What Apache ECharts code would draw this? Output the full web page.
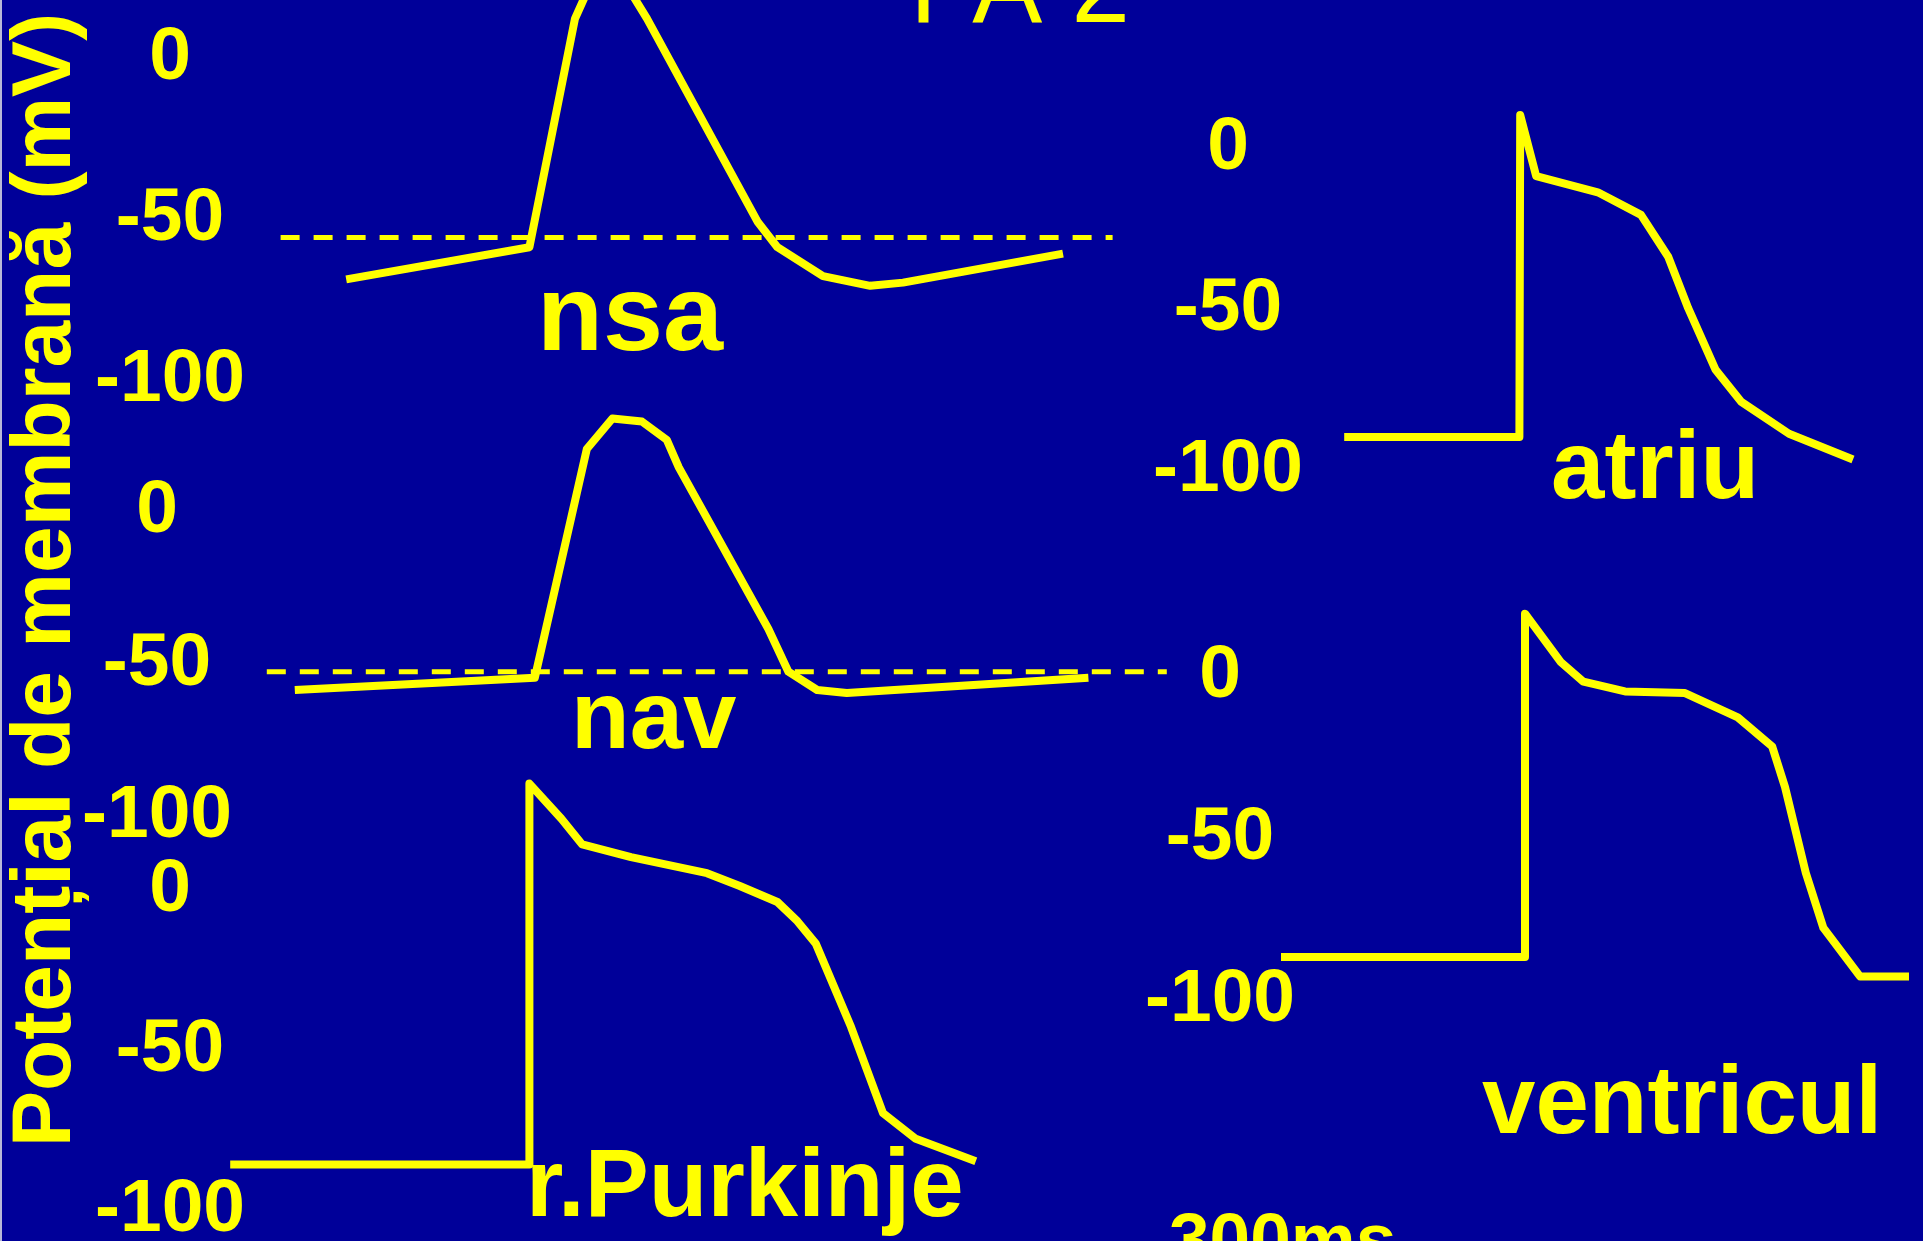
<!DOCTYPE html>
<html>
<head>
<meta charset="utf-8">
<script src="https://cdn.jsdelivr.net/npm/echarts@6/dist/echarts.min.js"></script>
<style>
  html, body { margin: 0; padding: 0; background: #000099; }
  #chart { width: 1923px; height: 1241px; }
</style>
</head>
<body>
<div id="chart"></div>
<script>
// time in ms, membrane potential in mV
const nsaTime = [164, 393, 450, 488, 540, 678, 703, 760, 819, 860, 1060];
const nsaMv   = [-70, -60, 11, 32, 11, -52, -60, -69, -72, -71, -62];
const nsaThresholdTime = [82, 1122];
const nsaThresholdMv = -57;

const navTime = [116, 416, 481, 513, 550, 581, 596, 708, 733, 769, 806, 1108];
const navMv   = [-60, -56, 19, 29, 28, 22, 13, -40, -54, -60, -61, -56];
const navThresholdTime = [81, 1206];
const navThresholdMv = -54;

const atriuTime = [89, 308, 309, 329, 406, 460, 494, 519, 553, 585, 645, 725];
const atriuMv   = [-91, -91, 9, -10, -15, -22, -35, -51, -70, -80, -90, -98];

const ventriculTime = [20, 325, 325, 370, 398, 450, 525, 591, 634, 650, 676, 698, 744, 809];
const ventriculMv   = [-88, -88, 18, 3, -3, -6, -6.5, -14, -23, -35.5, -62, -79, -94, -94];

const purkinjeTime = [19, 393, 393, 433, 459, 520, 615, 656, 703, 728, 751, 795, 835, 876, 951];
const purkinjeMv   = [-87, -87, 32, 21, 13, 9, 4, 0, -5, -11, -18, -44, -71, -79, -86];

const voltageTicks = [0, -50, -100];
const yTitle = "Potențial de membrană (mV)";

const YELLOW = "#ffff00";
const FONT = '"Liberation Sans", Arial, sans-serif';
const PX_PER_MS = 0.8;

const panels = [
  { label: "nsa",        time: nsaTime,       mv: nsaMv,       left: 215,  top: 54,  height: 322, xMax: 1250 },
  { label: "nav",        time: navTime,       mv: navMv,       left: 202,  top: 507, height: 305, xMax: 1250 },
  { label: "atriu",      time: atriuTime,     mv: atriuMv,     left: 1273, top: 144, height: 322, xMax: 800 },
  { label: "ventricul",  time: ventriculTime, mv: ventriculMv, left: 1265, top: 672, height: 324, xMax: 800 },
  { label: "r.Purkinje", time: purkinjeTime,  mv: purkinjeMv,  left: 215,  top: 886, height: 320, xMax: 1250 },
];

const chart = echarts.init(document.getElementById("chart"));

const grids = panels.map((p) => ({
  left: p.left,
  top: p.top,
  width: p.xMax * PX_PER_MS,
  height: p.height,
  outerBoundsMode: "none",
}));

const xAxes = panels.map((p, i) => ({
  type: "value",
  gridIndex: i,
  min: 0,
  max: p.xMax,
  show: false,
}));

const yAxes = panels.map((p, i) => ({
  type: "value",
  gridIndex: i,
  min: voltageTicks[voltageTicks.length - 1],
  max: voltageTicks[0],
  interval: 50,
  axisLine: { show: false },
  axisTick: { show: false },
  splitLine: { show: false },
  axisLabel: {
    align: "center",
    verticalAlign: "middle",
    margin: 45,
    formatter: "{v|{value}}",
    rich: {
      v: {
        color: YELLOW,
        fontFamily: FONT,
        fontWeight: "bold",
        fontSize: 75,
        padding: [9, 0, 0, 0],
      },
    },
  },
}));

const traceStyle = { color: YELLOW, width: 8, join: "round" };

const series = panels.map((p, i) => ({
  name: p.label,
  type: "line",
  xAxisIndex: i,
  yAxisIndex: i,
  data: p.time.map((t, k) => [t, p.mv[k]]),
  symbol: "none",
  clip: false,
  lineStyle: traceStyle,
  z: 3,
}));

const thresholds = [
  { grid: 0, time: nsaThresholdTime, mv: nsaThresholdMv },
  { grid: 1, time: navThresholdTime, mv: navThresholdMv },
];
thresholds.forEach((th) => {
  series.push({
    type: "line",
    xAxisIndex: th.grid,
    yAxisIndex: th.grid,
    data: th.time.map((t) => [t, th.mv]),
    symbol: "none",
    clip: false,
    lineStyle: { color: YELLOW, width: 5, type: [19, 14] },
    z: 2,
  });
});

function label(text, x, y, size, weight, extra) {
  return Object.assign({
    type: "text",
    x: x,
    y: y,
    silent: true,
    style: {
      text: text,
      font: weight + " " + size + "px " + FONT,
      fill: YELLOW,
      align: "left",
      textAlign: "left",
      verticalAlign: "middle",
      textVerticalAlign: "middle",
    },
  }, extra || {});
}

const graphic = [
  { type: "rect", shape: { x: 0, y: 0, width: 2, height: 1241 }, style: { fill: "#b8b8d8" }, silent: true },
  label("PA 2", 910, -7, 105, "normal"),
  label(panels[0].label, 537, 320, 108, "bold"),
  label(panels[1].label, 571, 722, 96, "bold"),
  label(panels[2].label, 1551, 472, 96, "bold"),
  label(panels[3].label, 1482, 1107, 96, "bold"),
  label(panels[4].label, 526, 1190, 96, "bold"),
  label("300ms", 1169, 1244, 73, "bold"),
  {
    type: "text",
    x: 47,
    y: 580,
    rotation: Math.PI / 2,
    silent: true,
    style: {
      text: yTitle,
      font: "bold 84px " + FONT,
      fill: YELLOW,
      align: "center",
      textAlign: "center",
      verticalAlign: "middle",
      textVerticalAlign: "middle",
    },
  },
];

chart.setOption({
  backgroundColor: "#000099",
  animation: false,
  grid: grids,
  xAxis: xAxes,
  yAxis: yAxes,
  series: series,
  graphic: graphic,
});
</script>
</body>
</html>
